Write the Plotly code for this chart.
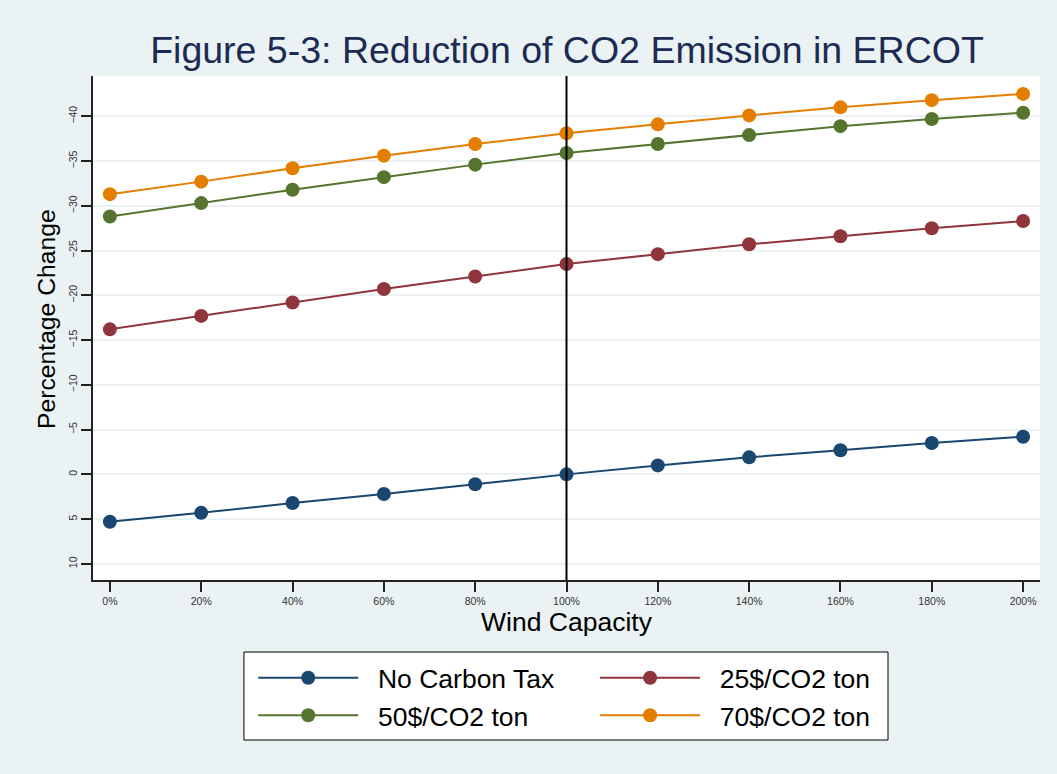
import plotly.graph_objects as go

# Wind capacity relative to current level (%)
wind_capacity = [0, 20, 40, 60, 80, 100, 120, 140, 160, 180, 200]
tick_labels = [f"{v}%" for v in wind_capacity]

# Percentage change in CO2 emissions under each carbon tax level
no_carbon_tax = [5.3, 4.3, 3.2, 2.2, 1.1, 0.0, -1.0, -1.9, -2.7, -3.5, -4.2]
tax_25 = [-16.2, -17.7, -19.2, -20.7, -22.1, -23.5, -24.6, -25.7, -26.6, -27.5, -28.3]
tax_50 = [-28.8, -30.3, -31.8, -33.2, -34.6, -35.9, -36.9, -37.9, -38.9, -39.7, -40.4]
tax_70 = [-31.3, -32.7, -34.2, -35.6, -36.9, -38.1, -39.1, -40.1, -41.0, -41.8, -42.5]

y_ticks = [-40, -35, -30, -25, -20, -15, -10, -5, 0, 5, 10]

# (name, values, colour, legend column)
series = [
    ("No Carbon Tax", no_carbon_tax, "#1a476f", "legend"),
    ("25$/CO2 ton", tax_25, "#90353b", "legend2"),
    ("50$/CO2 ton", tax_50, "#55752f", "legend"),
    ("70$/CO2 ton", tax_70, "#e37e00", "legend2"),
]

bg = "#eaf2f3"
font_family = "Liberation Sans, Arial, sans-serif"
pad = "\u00a0\u00a0"  # gap between legend symbol and label

fig = go.Figure()
for name, values, color, leg in series:
    fig.add_trace(go.Scatter(
        x=wind_capacity, y=values, name=pad + name, mode="lines+markers",
        line=dict(color=color, width=2),
        marker=dict(color=color, size=14),
        legend=leg,
    ))

fig.add_vline(x=100, line=dict(color="black", width=2), layer="above")

# Frame around the two legend columns
fig.add_shape(
    type="rect", xref="paper", yref="paper",
    x0=0.1594, x1=0.8395, y0=-0.1429, y1=-0.3175,
    line=dict(color="black", width=1), fillcolor="white", layer="below",
)

# Vertical axis title
fig.add_annotation(
    text="Percentage Change", xref="paper", yref="paper",
    x=-0.0486, y=0.5179, xanchor="center", yanchor="middle",
    textangle=-90, showarrow=False,
    font=dict(size=24.7, color="black", family=font_family),
)

legend_common = dict(
    orientation="v", xanchor="left", yanchor="top",
    bgcolor="rgba(0,0,0,0)", borderwidth=0,
    font=dict(size=26.5, color="black", family=font_family),
    itemwidth=100, tracegroupgap=0,
)

fig.update_layout(
    width=1057, height=774,
    paper_bgcolor=bg, plot_bgcolor="white",
    margin=dict(l=93, r=17, t=76, b=194),
    font=dict(family=font_family, color="black"),
    title=dict(
        text="Figure 5-3: Reduction of CO2 Emission in ERCOT",
        x=0.5005, xref="paper", xanchor="center",
        y=1 - 50 / 774, yref="container", yanchor="middle",
        font=dict(size=37.5, color="#1c2b53", family=font_family),
    ),
    xaxis=dict(
        range=[-3.7, 203.7], tickvals=wind_capacity, ticktext=tick_labels,
        showgrid=False, zeroline=False,
        showline=True, linecolor="#222222", linewidth=2, mirror=False,
        ticks="outside", ticklen=10, tickwidth=2, tickcolor="#222222",
        tickfont=dict(size=10.5, color="#333333"),
        title=dict(text="Wind Capacity", font=dict(size=26.5), standoff=6),
    ),
    yaxis=dict(
        range=[11.8, -44.5], tickvals=y_ticks,
        showgrid=True, gridcolor=bg, gridwidth=2, zeroline=False,
        showline=True, linecolor="#222222", linewidth=2, mirror=False,
        ticks="outside", ticklen=10, tickwidth=2, tickcolor="#222222",
        tickangle=-90, tickfont=dict(size=10.5, color="#333333"),
    ),
    legend=dict(x=0.1692, y=-0.147, **legend_common),
    legend2=dict(x=0.5302, y=-0.147, **legend_common),
    showlegend=True,
)

fig.write_html("out.html")
